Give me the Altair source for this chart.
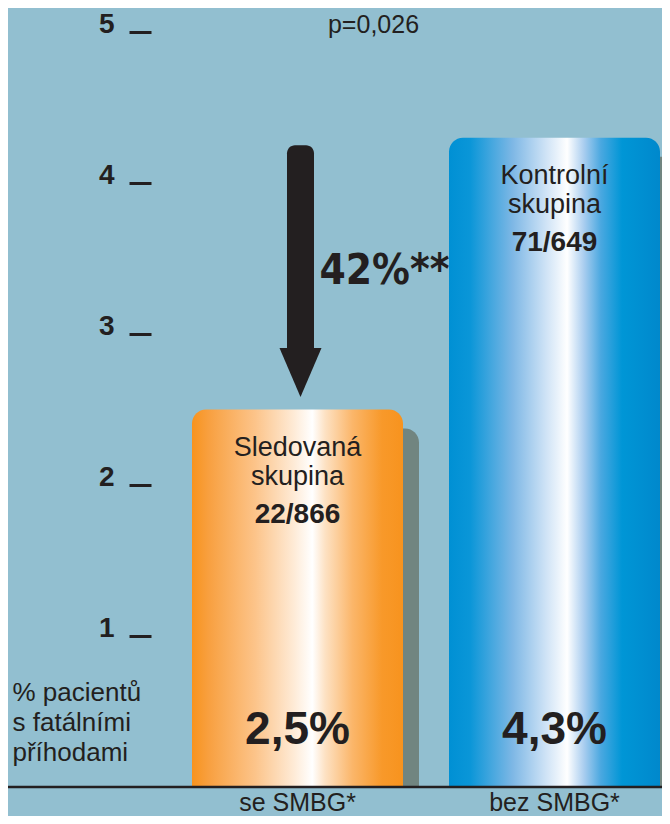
import altair as alt
import pandas as pd

# ---------------- data ----------------
groups = ["se SMBG*", "bez SMBG*"]
values = [2.5, 4.3]
value_labels = ["2,5%", "4,3%"]
name_line1 = ["Sledovaná", "Kontrolní"]
name_line2 = ["skupina", "skupina"]
counts = ["22/866", "71/649"]
y_ticks = [1, 2, 3, 4, 5]
y_title = ["% pacientů", "s fatálními", "příhodami"]
p_text = ["p=0,026"]
reduction_text = ["42%**"]

# annotation anchors (data units)
arrow_top = [values[1] - 0.05]
arrow_shaft_end = [values[0] + 0.39]
arrow_head_mid = [values[0] + 0.245]
reduction_y = [3.33]

# ---------------- styling ----------------
W, H = 654, 808
BASE_PX = 779
PPU = 151.0
INK = "#231f20"
BG = "#92bfd0"
SHADOW = "#718580"
FONT = "Liberation Sans"
NARROW = "Liberation Sans Narrow, DejaVu Sans Condensed, Liberation Sans"

orange = alt.LinearGradient(
    gradient="linear", x1=0, x2=1, y1=0, y2=0,
    stops=[
        alt.GradientStop(offset=0.0, color="#f7931e"),
        alt.GradientStop(offset=0.08, color="#f8a040"),
        alt.GradientStop(offset=0.30, color="#fcc48a"),
        alt.GradientStop(offset=0.48, color="#feead5"),
        alt.GradientStop(offset=0.57, color="#ffffff"),
        alt.GradientStop(offset=0.63, color="#fde2c4"),
        alt.GradientStop(offset=0.76, color="#fbb66a"),
        alt.GradientStop(offset=0.90, color="#f8992a"),
        alt.GradientStop(offset=1.0, color="#f7931e"),
    ],
)
blue = alt.LinearGradient(
    gradient="linear", x1=0, x2=1, y1=0, y2=0,
    stops=[
        alt.GradientStop(offset=0.0, color="#0090d4"),
        alt.GradientStop(offset=0.10, color="#0a96d8"),
        alt.GradientStop(offset=0.30, color="#7db7e5"),
        alt.GradientStop(offset=0.46, color="#cfe3f6"),
        alt.GradientStop(offset=0.56, color="#ffffff"),
        alt.GradientStop(offset=0.64, color="#a9cdef"),
        alt.GradientStop(offset=0.72, color="#4aa8e0"),
        alt.GradientStop(offset=0.82, color="#0096d6"),
        alt.GradientStop(offset=1.0, color="#0088cc"),
    ],
)

df = pd.DataFrame({
    "group": groups, "value": values, "vlabel": value_labels,
    "l1": name_line1, "l2": name_line2, "count": counts,
    "zero": [0, 0],
})
arrow_df = pd.DataFrame({
    "group": [groups[0]], "value": arrow_top, "shaft_end": arrow_shaft_end,
    "head_mid": arrow_head_mid, "ry": reduction_y, "rt": reduction_text,
})
p_df = pd.DataFrame({"group": [groups[0]], "value": [y_ticks[-1]], "t": p_text})
base_df = pd.DataFrame({"value": [0]})

y_domain = [(BASE_PX - H) / PPU, BASE_PX / PPU]
x_scale = alt.Scale(domain=groups, range=[184, 652], paddingInner=0.179, paddingOuter=0)
y_scale = alt.Scale(domain=y_domain, nice=False, zero=False)

x_axis = alt.Axis(
    orient="bottom", offset=-(H - BASE_PX), domain=False, ticks=False, tickSize=0,
    labelPadding=23, labelBaseline="alphabetic", labelFontSize=25, labelFont=FONT,
    labelColor=INK, labelAngle=0, title=None, grid=False,
)
y_axis = alt.Axis(
    orient="left", offset=-143, values=y_ticks, domain=False, ticks=True,
    tickSize=22, tickWidth=3, tickColor=INK, labelFontSize=28, labelFontWeight="bold",
    labelPadding=15, labelBaseline="alphabetic", labelColor=INK, labelFont=FONT,
    grid=False, title=y_title, titleAngle=0, titleAlign="left",
    titleBaseline="alphabetic", titleX=4 - 143, titleY=692, titleFontSize=26,
    titleFontWeight="normal", titleLineHeight=30, titleColor=INK, titleFont=FONT,
)


def X():
    return alt.X("group:N", scale=x_scale, axis=x_axis, sort=groups)


def Y(field="value:Q"):
    return alt.Y(field, scale=y_scale, axis=y_axis)


shadow = alt.Chart(df).mark_bar(
    color=SHADOW, cornerRadiusTopLeft=14, cornerRadiusTopRight=14, xOffset=16, yOffset=19
).encode(x=X(), y=Y(), y2="zero:Q")

bar_o = alt.Chart(df).transform_filter(alt.datum.group == groups[0]).mark_bar(
    color=orange, cornerRadiusTopLeft=14, cornerRadiusTopRight=14
).encode(x=X(), y=Y(), y2="zero:Q")

bar_b = alt.Chart(df).transform_filter(alt.datum.group == groups[1]).mark_bar(
    color=blue, cornerRadiusTopLeft=14, cornerRadiusTopRight=14
).encode(x=X(), y=Y(), y2="zero:Q")

base_rule = alt.Chart(base_df).mark_rule(color=INK, strokeWidth=2.5).encode(
    y=Y(), x=alt.value(0), x2=alt.value(W)
)

txt = dict(font=FONT, color=INK, baseline="alphabetic", align="center")
l1 = alt.Chart(df).mark_text(fontSize=27, dy=46, **txt).encode(x=X(), y=Y(), text="l1:N")
l2 = alt.Chart(df).mark_text(fontSize=27, dy=75, **txt).encode(x=X(), y=Y(), text="l2:N")
cnt = alt.Chart(df).mark_text(fontSize=28, fontWeight="bold", dy=113, **txt).encode(
    x=X(), y=Y(), text="count:N")
vlab = alt.Chart(df).mark_text(fontSize=46, fontWeight="bold", dy=-43, **txt).encode(
    x=X(), y=Y("zero:Q"), text="vlabel:N")

shaft = alt.Chart(arrow_df).mark_bar(
    width=27, color=INK, cornerRadiusTopLeft=8, cornerRadiusTopRight=8, xOffset=3
).encode(x=X(), y=Y(), y2="shaft_end:Q")
head = alt.Chart(arrow_df).mark_point(
    shape="M-1,-1.1667L1,-1.1667L0,1.1667Z", size=42 * 42, filled=True, color=INK,
    opacity=1, strokeWidth=0, xOffset=3
).encode(x=X(), y=Y("head_mid:Q"))
red = alt.Chart(arrow_df).mark_text(
    font=NARROW, fontSize=42, fontWeight="bold", color=INK, align="left",
    baseline="alphabetic", dx=22
).encode(x=X(), y=Y("ry:Q"), text="rt:N")

ptxt = alt.Chart(p_df).mark_text(fontSize=25, dx=76, dy=1, **txt).encode(
    x=X(), y=Y(), text="t:N")

chart = alt.layer(
    shadow, bar_o, bar_b, base_rule, l1, l2, cnt, vlab, shaft, head, red, ptxt
).properties(
    width=W, height=H, autosize=alt.AutoSizeParams(type="none"), padding=0,
    background=BG,
).configure_view(strokeWidth=0)

chart.save("out.html", embed_options={"renderer": "svg", "actions": False})
